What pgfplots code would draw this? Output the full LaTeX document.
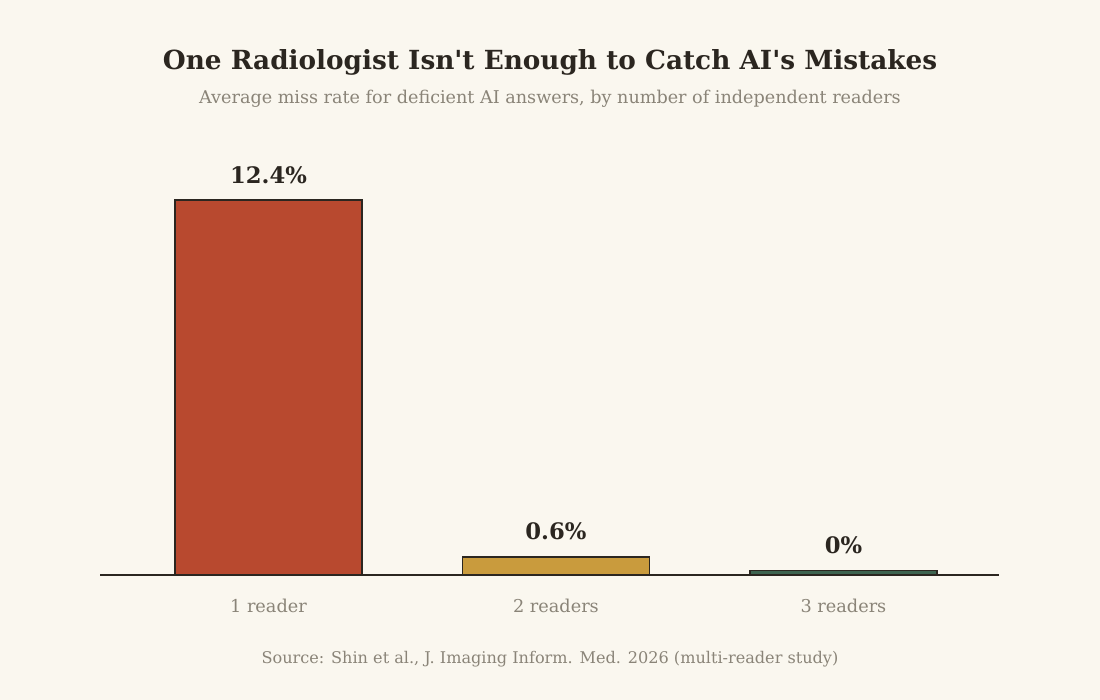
\documentclass[border=0pt]{standalone}
\usepackage{fontspec}
\setmainfont{DejaVu Serif}[Ligatures=TeXOff]
\usepackage{pgfplots}
\pgfplotsset{compat=1.18}
\definecolor{bg}{HTML}{FAF7EF}
\definecolor{redc}{HTML}{B8492F}
\definecolor{goldc}{HTML}{C99B3D}
\definecolor{greenc}{HTML}{3D6450}
\definecolor{darkc}{HTML}{2B2620}
\definecolor{grayc}{HTML}{8A8478}
\begin{document}
\begin{tikzpicture}[x=1pt,y=1pt]
\fill[bg] (0,0) rectangle (1100,700);
\node[font=\fontsize{26.3}{32}\selectfont\bfseries, text=darkc] at (550,638) {One Radiologist Isn't Enough to Catch AI's Mistakes};
\node[font=\fontsize{17.6}{21}\selectfont, text=grayc] at (550,601) {Average miss rate for deficient AI answers, by number of independent readers};
\node[font=\fontsize{16.1}{20}\selectfont, text=grayc] at (550,41) {Source: Shin et al., J. Imaging Inform. Med. 2026 (multi-reader study)};
\begin{axis}[
  at={(100pt,125pt)}, anchor=south west,
  scale only axis, width=899pt, height=423pt,
  xmin=-0.586, xmax=2.541, ymin=0, ymax=14,
  axis x line=bottom, axis y line=none,
  x axis line style={-, draw=darkc, line width=1.8pt},
  ytick=\empty,
  xtick={0,1,2}, xticklabels={1 reader,2 readers,3 readers},
  major tick length=0pt,
  xticklabel style={font=\fontsize{17.7}{21}\selectfont, text=grayc, yshift=-21pt},
  ybar, bar width=187pt,
  nodes near coords, point meta=explicit symbolic,
  every node near coord/.append style={font=\fontsize{22.7}{27}\selectfont\bfseries, text=darkc, anchor=center, yshift=25.5pt},
  clip=false,
]
\addplot[ybar, bar shift=0pt, fill=redc, draw=darkc, line width=1.8pt] coordinates {(0,12.4) [12.4\%]};
\addplot[ybar, bar shift=0pt, fill=goldc, draw=darkc, line width=1.8pt] coordinates {(1,0.6) [0.6\%]};
\addplot[ybar, bar shift=0pt, fill=greenc, draw=darkc, line width=1.8pt] coordinates {(2,0.15) [0\%]};
\end{axis}
\end{tikzpicture}
\end{document}
